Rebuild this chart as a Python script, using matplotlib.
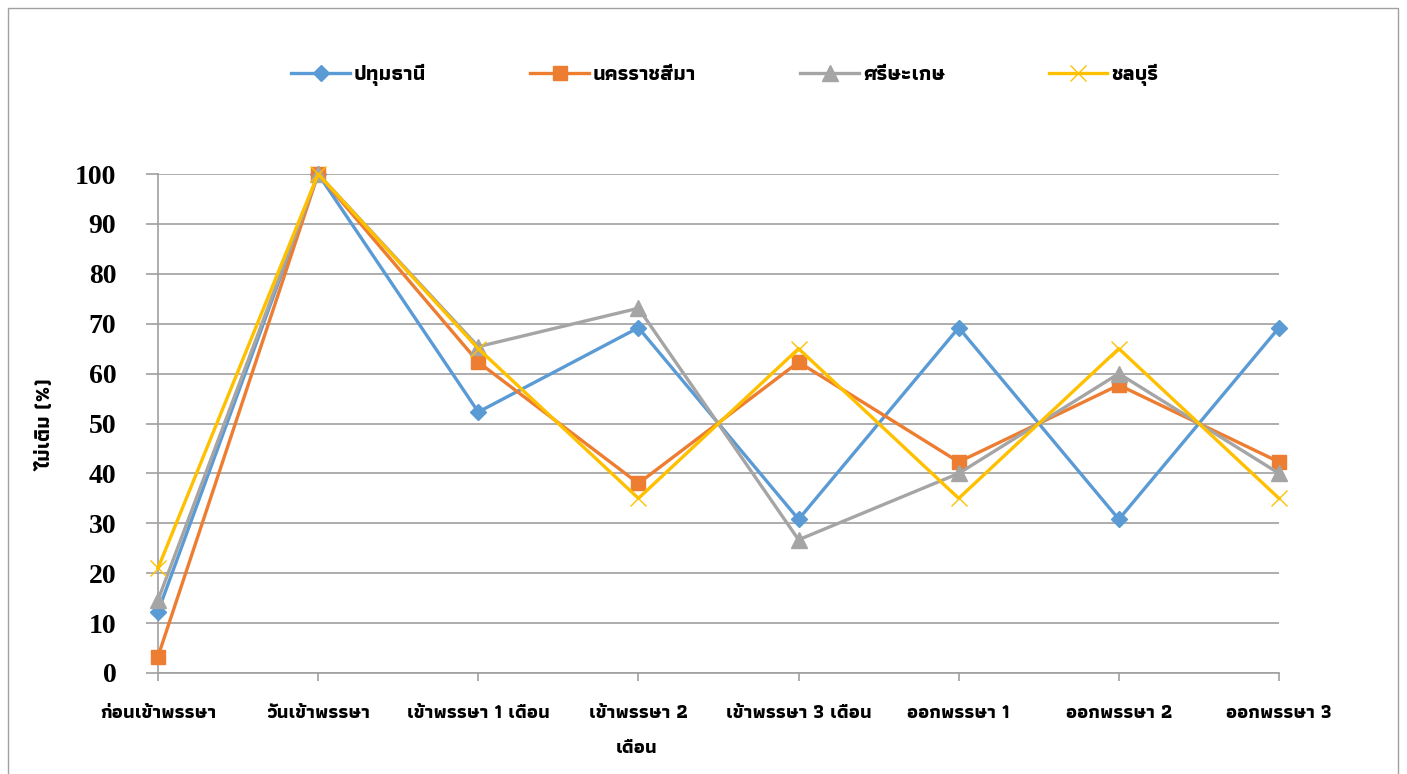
import matplotlib
matplotlib.use('Agg')
import matplotlib.pyplot as plt
from matplotlib.patches import Rectangle

THAI = ['Athiti', 'Noto Sans Thai', 'DejaVu Sans']

# categories (months around Buddhist Lent)
categories = ['ก่อนเข้าพรรษา', 'วันเข้าพรรษา', 'เข้าพรรษา 1 เดือน', 'เข้าพรรษา 2',
              'เข้าพรรษา 3 เดือน', 'ออกพรรษา 1', 'ออกพรรษา 2', 'ออกพรรษา 3']

# series values (%)
pathum = [12.3, 100, 52.3, 69.2, 30.8, 69.2, 30.8, 69.2]
korat = [3.3, 100, 62.3, 38.0, 62.3, 42.3, 57.7, 42.3]
sisaket = [14.6, 100, 65.4, 73.1, 26.7, 40.0, 60.0, 40.0]
chonburi = [21.0, 100, 65.0, 35.0, 65.0, 35.0, 65.0, 35.0]

names = ['ปทุมธานี', 'นครราชสีมา', 'ศรีษะเกษ', 'ชลบุรี']
yticks = [0, 10, 20, 30, 40, 50, 60, 70, 80, 90, 100]


def main():
    fig = plt.figure(figsize=(14.07, 7.74), dpi=100)
    ax = fig.add_axes([158 / 1407, 1 - 673 / 774, (1279 - 158) / 1407, (673 - 174) / 774])

    x = list(range(len(categories)))
    styles = [
        (pathum, '#5B9BD5', 'D', 8, {}),
        (korat, '#ED7D31', 's', 10, {}),
        (sisaket, '#A5A5A5', '^', 11, {}),
        (chonburi, '#FFC000', 'x', 12, {'markeredgewidth': 1.0}),
    ]
    for (vals, color, marker, ms, extra), name in zip(styles, names):
        ax.plot(x, vals, color=color, lw=2.4, marker=marker, markersize=ms,
                label=name, clip_on=False, zorder=3, **extra)

    ax.set_xlim(0, len(categories) - 1)
    ax.set_ylim(0, 100)
    ax.set_yticks(yticks)
    ax.set_yticklabels([str(v) for v in yticks], family='Liberation Serif',
                       fontsize=20, fontweight='bold')
    ax.set_xticks(x)
    ax.set_xticklabels(categories, family=THAI, fontsize=14, fontweight='bold')
    ax.grid(axis='y', color='#A0A0A0', lw=1.2)
    ax.set_axisbelow(True)
    for side in ['top', 'right']:
        ax.spines[side].set_visible(False)
    ax.spines['left'].set_color('#A0A0A0')
    ax.spines['bottom'].set_color('#A0A0A0')
    ax.spines['left'].set_linewidth(1.2)
    ax.spines['bottom'].set_linewidth(1.2)
    ax.tick_params(axis='y', length=9, width=1.2, color='#A0A0A0', pad=21)
    ax.tick_params(axis='x', length=6, width=1.2, color='#A0A0A0', pad=16)

    ax.set_ylabel('ไม่เติม (%)', family=THAI, fontsize=15, fontweight='bold')
    ax.yaxis.set_label_coords(55 / 1407, 1 - 425 / 774, transform=fig.transFigure)
    fig.text(637 / 1407, 1 - 748 / 774, 'เดือน', family=THAI, fontsize=14,
             fontweight='bold', ha='center', va='center')

    fig.legend(loc='center', bbox_to_anchor=(725 / 1407, 1 - 75 / 774), ncol=4,
               frameon=False, prop={'family': THAI, 'size': 15, 'weight': 'bold'},
               handlelength=2.8, handletextpad=0.2, columnspacing=5.0)

    fig.add_artist(Rectangle((8 / 1407, -0.05), (1398 - 8) / 1407, 1.05 - 8 / 774,
                             transform=fig.transFigure, fill=False,
                             edgecolor='#A0A0A0', lw=1.0))

    fig.savefig('out.png')


if __name__ == "__main__":
    main()
